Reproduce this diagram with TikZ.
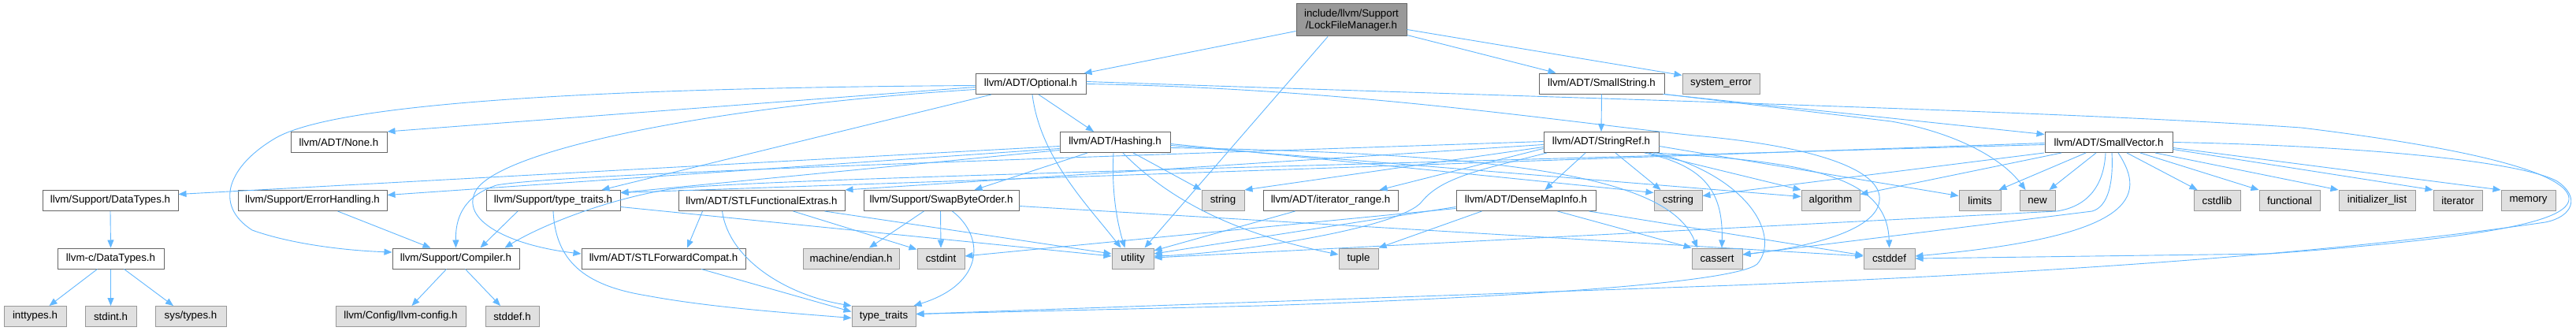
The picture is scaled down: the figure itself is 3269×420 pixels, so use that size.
\documentclass[tikz,border=0pt]{standalone}
\usepackage{fontspec}
\setmainfont{Liberation Sans}
\usetikzlibrary{arrows.meta}
\definecolor{edgec}{HTML}{63B8FF}
\definecolor{bordc}{HTML}{666666}
\definecolor{gbord}{HTML}{999999}
\definecolor{gfill}{HTML}{E0E0E0}
\definecolor{mfill}{HTML}{999999}
\newcommand\dxfont{\fontsize{13.3}{15}\selectfont}
\begin{document}
\begin{tikzpicture}[x=1pt,y=-1pt,
  nb/.style={draw=bordc, fill=white, line width=1pt, minimum height=26pt, inner sep=0pt, font=\dxfont, text=black},
  ng/.style={nb, draw=gbord, fill=gfill},
  nm/.style={nb, fill=mfill, align=center},
  e/.style={draw=edgec, line width=0.9pt, -{Triangle[length=10pt,width=8pt]}}]
\fill[white] (0,0) rectangle (3269,420);
\useasboundingbox (0,0) rectangle (3269,420);
% nodes
\node[nm, minimum width=140pt, minimum height=41pt] (lfm) at (1715,25.5) {include/llvm/Support\\/LockFileManager.h};
\node[nb, minimum width=140pt] (opt) at (1308,106.5) {llvm/ADT/Optional.h};
\node[nb, minimum width=159pt] (sstr) at (2032.5,106) {llvm/ADT/SmallString.h};
\node[ng, minimum width=98pt] (syserr) at (2184,106) {system\_error};
\node[nb, minimum width=122pt] (none) at (430,180.5) {llvm/ADT/None.h};
\node[nb, minimum width=140pt] (hash) at (1415,180.5) {llvm/ADT/Hashing.h};
\node[nb, minimum width=146pt] (sref) at (2032,180.5) {llvm/ADT/StringRef.h};
\node[nb, minimum width=162pt] (svec) at (2676,180.5) {llvm/ADT/SmallVector.h};
\node[nb, minimum width=172pt] (dtypes) at (140,254.5) {llvm/Support/DataTypes.h};
\node[nb, minimum width=189pt] (errh) at (396.5,254.5) {llvm/Support/ErrorHandling.h};
\node[nb, minimum width=170pt] (tt) at (702,254.5) {llvm/Support/type\_traits.h};
\node[nb, minimum width=211pt] (stlfe) at (966.5,254.5) {llvm/ADT/STLFunctionalExtras.h};
\node[nb, minimum width=197pt] (sbo) at (1194.5,254.5) {llvm/Support/SwapByteOrder.h};
\node[ng, minimum width=54pt] (string) at (1552,254.5) {string};
\node[nb, minimum width=171pt] (itr) at (1688.5,254.5) {llvm/ADT/iterator\_range.h};
\node[nb, minimum width=177pt] (dmi) at (1936.5,254.5) {llvm/ADT/DenseMapInfo.h};
\node[ng, minimum width=61pt] (cstring) at (2129.5,254.5) {cstring};
\node[ng, minimum width=74pt] (algorithm) at (2323,254.5) {algorithm};
\node[ng, minimum width=53pt] (limits) at (2512.5,254.5) {limits};
\node[ng, minimum width=45pt] (new) at (2585.5,254.5) {new};
\node[ng, minimum width=59pt] (cstdlib) at (2813.5,254.5) {cstdlib};
\node[ng, minimum width=77pt] (functional) at (2905.5,254.5) {functional};
\node[ng, minimum width=97pt] (initlist) at (3016.5,254.5) {initializer\_list};
\node[ng, minimum width=62pt] (iterator) at (3119,254.5) {iterator};
\node[ng, minimum width=69pt] (memory) at (3208.5,254.5) {memory};
\node[nb, minimum width=135pt] (cdtypes) at (140.5,328) {llvm-c/DataTypes.h};
\node[nb, minimum width=161pt] (comp) at (578.5,328) {llvm/Support/Compiler.h};
\node[nb, minimum width=208pt] (stlfc) at (842,328) {llvm/ADT/STLForwardCompat.h};
\node[ng, minimum width=122pt] (mendian) at (1080,328) {machine/endian.h};
\node[ng, minimum width=60pt] (cstdint) at (1194,328) {cstdint};
\node[ng, minimum width=53pt] (utility) at (1437.5,328) {utility};
\node[ng, minimum width=50pt] (tuple) at (1724,328) {tuple};
\node[ng, minimum width=64pt] (cassert) at (2179,328) {cassert};
\node[ng, minimum width=65pt] (cstddef) at (2397.5,328) {cstddef};
\node[ng, minimum width=79pt] (inttypes) at (44.5,401.5) {inttypes.h};
\node[ng, minimum width=65pt] (stdint) at (140.5,401.5) {stdint.h};
\node[ng, minimum width=90pt] (systypes) at (242,401.5) {sys/types.h};
\node[ng, minimum width=165pt] (llvmconfig) at (508.5,401.5) {llvm/Config/llvm-config.h};
\node[ng, minimum width=68pt] (stddef) at (650,401.5) {stddef.h};
\node[ng, minimum width=81pt] (typetraits) at (1121.5,401.5) {type\_traits};
% LockFileManager
\draw[e] ([yshift=-14pt]lfm.west) -- ([xshift=-3pt]opt.north east);
\draw[e] ([yshift=-19pt]lfm.east) -- ([xshift=-58pt]sstr.north);
\draw[e] ([yshift=-12pt]lfm.east) -- ([yshift=-3pt]syserr.north west);
\draw[e] ([xshift=-30pt]lfm.south) -- ([xshift=15pt]utility.north);
% Optional
\draw[e] ([xshift=10pt]opt.south) -- ([xshift=-27pt]hash.north);
\draw[e] ([yshift=-4pt]opt.west) -- (none.north east);
\draw[e] ([yshift=-2pt]opt.west) .. controls (700,112) and (420,135) .. (350,175) .. controls (290,210) and (270,260) .. (320,292) .. controls (370,310) and (440,318) .. ([yshift=8pt]comp.west);
\draw[e] ([yshift=-7pt]opt.west) .. controls (900,135) and (640,190) .. (605,240) .. controls (580,280) and (650,312) .. ([yshift=6pt]stlfc.west);
\draw[e] ([xshift=-50pt]opt.south) -- ([xshift=-24pt]tt.north east);
\draw[e] (opt.east) .. controls (1700,112) and (1950,150) .. (2150,172) .. controls (2300,185) and (2390,215) .. (2385,255) .. controls (2380,300) and (2260,318) .. ([yshift=5pt]cassert.east);
\draw[e] ([xshift=2pt]opt.south) .. controls (1320,200) and (1380,260) .. ([xshift=-15pt]utility.north);
\draw[e] ([yshift=3pt]opt.east) .. controls (2000,125) and (2600,140) .. (2920,162) .. controls (3150,190) and (3262,222) .. (3260,253) .. controls (3258,282) and (3150,302) .. (2880,322) -- (cstddef.east);
% SmallString
\draw[e] (sstr.south) -- (sref.north);
\draw[e] ([xshift=-2pt]sstr.south east) -- ([yshift=10pt]svec.west);
\draw[e] (sstr.south east) -- (2400,154) .. controls (2480,168) and (2540,200) .. ([xshift=-15pt]new.north);
% Hashing
\draw[e] ([yshift=-5pt]hash.west) -- ([yshift=8pt]dtypes.east);
\draw[e] ([yshift=-8pt]hash.west) -- ([yshift=7pt]errh.east);
\draw[e] ([yshift=-10pt]hash.west) -- ([yshift=10pt]tt.east);
\draw[e] ([xshift=-35pt]hash.south) -- ([xshift=42pt]sbo.north);
\draw[e] ([xshift=23pt]hash.south) -- (string.north west);
\draw[e] ([xshift=-2pt]hash.south) .. controls (1410,250) and (1420,290) .. ([xshift=-10pt]utility.north);
\draw[e] ([xshift=10pt]hash.south) .. controls (1480,250) and (1560,295) .. ([yshift=5pt]tuple.west);
\draw[e] ([yshift=-4pt]hash.east) -- ([yshift=5pt]algorithm.west);
\draw[e] ([yshift=-2pt]hash.east) -- ([yshift=10pt]cstring.west);
\draw[e] ([yshift=-7pt]hash.east) .. controls (1950,195) and (2120,230) .. ([xshift=-25pt]cassert.north);
% StringRef
\draw[e] ([xshift=-20pt]sref.south) -- ([xshift=24pt]dmi.north);
\draw[e] ([yshift=-3pt]sref.west) -- (stlfe.north east);
\draw[e] ([yshift=-8pt]sref.west) -- ([xshift=-24pt]itr.north east);
\draw[e] ([yshift=-6pt]sref.west) -- (string.north east);
\draw[e] ([yshift=1pt]sref.west) .. controls (1200,205) and (700,222) .. (630,235) .. controls (585,250) and (578,280) .. (comp.north);
\draw[e] ([xshift=-69pt]sref.south) .. controls (1880,215) and (1830,225) .. (1805,255) .. controls (1780,290) and (1560,322) .. ([yshift=3pt]utility.east);
\draw[e] ([xshift=18pt]sref.south) -- ([xshift=-22pt]cstring.north);
\draw[e] ([xshift=60pt]sref.south) -- (algorithm.north west);
\draw[e] ([yshift=-5pt]sref.east) -- ([yshift=6pt]limits.west);
\draw[e] ([xshift=55pt]sref.south) .. controls (2160,210) and (2187,240) .. ([xshift=6pt]cassert.north);
\draw[e] ([xshift=66pt]sref.south) .. controls (2300,205) and (2395,225) .. (cstddef.north);
\draw[e] ([xshift=70pt]sref.south) .. controls (2220,225) and (2260,300) .. (2230,335) .. controls (2200,360) and (1900,378) .. (1600,388) -- ([yshift=3pt]typetraits.east);
% SmallVector
\draw[e] ([yshift=-3pt]svec.west) .. controls (1500,215) and (950,228) .. (850,240) .. controls (760,255) and (680,290) .. ([xshift=62pt]comp.north);
\draw[e] ([yshift=-1pt]svec.west) -- ([yshift=10pt]tt.east);
\draw[e] ([xshift=-82pt]svec.south) -- ([yshift=6pt]cstring.east);
\draw[e] ([xshift=-60pt]svec.south) -- ([yshift=8pt]algorithm.east);
\draw[e] ([xshift=-29pt]svec.south) -- ([xshift=-3pt]limits.north east);
\draw[e] ([xshift=-16pt]svec.south) -- ([xshift=15pt]new.north);
\draw[e] ([xshift=23pt]svec.south) -- ([xshift=-25pt]cstdlib.north);
\draw[e] ([xshift=40pt]svec.south) -- (functional.north west);
\draw[e] ([xshift=59pt]svec.south) -- (initlist.north west);
\draw[e] ([yshift=-9pt]svec.east) -- (iterator.north west);
\draw[e] ([yshift=-7pt]svec.east) -- (memory.north west);
\draw[e] ([xshift=4pt]svec.south) .. controls (2682,230) and (2676,262) .. (2655,268) -- ([yshift=5pt]cassert.east);
\draw[e] ([xshift=-4pt]svec.south) .. controls (2670,235) and (2650,262) .. (2610,268) -- ([yshift=1pt]utility.east);
\draw[e] ([xshift=12pt]svec.south) .. controls (2725,250) and (2710,300) .. ([yshift=3pt]cstddef.east);
\draw[e] (svec.east) .. controls (3000,185) and (3200,205) .. (3245,230) .. controls (3275,250) and (3265,275) .. (3230,282) .. controls (2900,330) and (2500,350) .. (2200,362) -- ([yshift=3pt]typetraits.east);
% DenseMapInfo
\draw[e] ([xshift=-56pt]dmi.south) -- (tuple.north east);
\draw[e] ([yshift=-8pt]dmi.west) -- ([yshift=6pt]utility.east);
\draw[e] ([yshift=-10pt]dmi.west) -- ([yshift=3pt]cstdint.east);
\draw[e] ([xshift=40pt]dmi.south) -- (cassert.north west);
\draw[e] ([xshift=80pt]dmi.south) -- ([yshift=4pt]cstddef.west);
% iterator_range
\draw[e] ([xshift=-45pt]itr.south) -- ([yshift=10pt]utility.east);
% STLFunctionalExtras
\draw[e] ([xshift=-75pt]stlfe.south) -- ([xshift=30pt]stlfc.north);
\draw[e] ([xshift=-50pt]stlfe.south) .. controls (925,330) and (1000,375) .. (typetraits.north west);
\draw[e] ([xshift=40pt]stlfe.south) -- ([yshift=-2pt]cstdint.north west);
\draw[e] ([xshift=80pt]stlfe.south) -- ([yshift=6pt]utility.west);
% STLForwardCompat
\draw[e] ([xshift=48pt]stlfc.south) -- ([yshift=6pt]typetraits.west);
% SwapByteOrder
\draw[e] ([xshift=-22pt]sbo.south) -- ([xshift=23pt]mendian.north);
\draw[e] ([xshift=-1pt]sbo.south) -- (cstdint.north);
\draw[e] ([xshift=14pt]sbo.south) .. controls (1250,300) and (1250,360) .. ([xshift=-3pt]typetraits.north east);
\draw[e] ([yshift=-7pt]sbo.east) -- ([yshift=3pt]cstddef.west);
% type_traits.h
\draw[e] ([xshift=-45pt]tt.south) -- ([xshift=31pt]comp.north);
\draw[e] (tt.south) .. controls (705,330) and (740,362) .. (820,375) .. controls (900,390) and (1000,397) .. ([yshift=-2pt]typetraits.west);
\draw[e] ([yshift=-8pt]tt.east) -- ([yshift=3pt]utility.west);
% ErrorHandling
\draw[e] ([xshift=32pt]errh.south) -- ([xshift=-32pt]comp.north);
% DataTypes
\draw[e] (dtypes.south) -- (cdtypes.north);
\draw[e] ([xshift=-17pt]cdtypes.south) -- ([xshift=18pt]inttypes.north);
\draw[e] (cdtypes.south) -- (stdint.north);
\draw[e] ([xshift=17pt]cdtypes.south) -- ([xshift=-22pt]systypes.north);
% Compiler
\draw[e] ([xshift=-12pt]comp.south) -- ([xshift=14pt]llvmconfig.north);
\draw[e] ([xshift=12pt]comp.south) -- ([xshift=-15pt]stddef.north);
\end{tikzpicture}
\end{document}
